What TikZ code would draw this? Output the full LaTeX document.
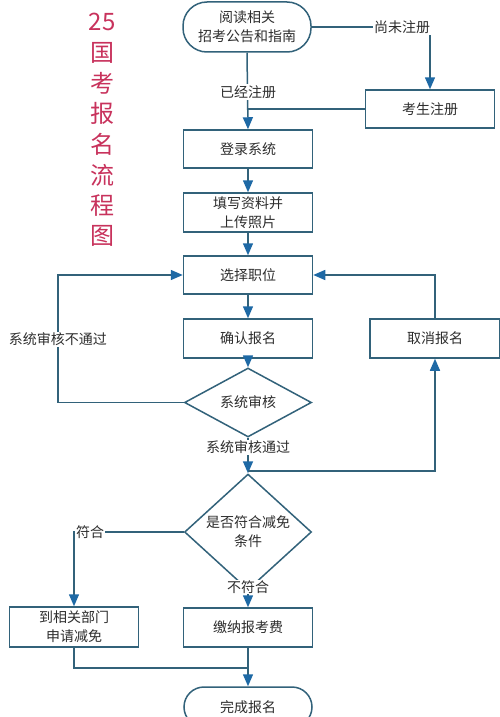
\documentclass[tikz,border=0pt]{standalone}
\usepackage{fontspec}
\newfontfamily\cjk{Noto Sans CJK SC}
\usetikzlibrary{arrows.meta,shapes.geometric}
\definecolor{linec}{RGB}{50,98,122}
\definecolor{arrowc}{RGB}{30,105,165}
\definecolor{textc}{RGB}{45,45,45}
\definecolor{titlec}{RGB}{200,50,92}
\tikzset{
  box/.style={draw=linec, line width=1.5pt, fill=white, minimum width=129pt, minimum height=38pt, inner sep=1pt, font=\cjk\fontsize{14}{19}\selectfont, text=textc, align=center},
  term/.style={box, rounded corners=24pt, minimum width=128pt, minimum height=50pt},
  dia/.style={draw=linec, line width=1.5pt, fill=white, shape=diamond, inner sep=0pt, font=\cjk\fontsize{14}{19}\selectfont, text=textc, align=center},
  lbl/.style={fill=white, inner sep=1pt, font=\cjk\fontsize{14}{17}\selectfont, text=textc},
  conn/.style={draw=linec, line width=1.5pt},
  arr/.style={conn, -{Triangle[width=10pt,length=12pt,color=arrowc,fill=arrowc]}},
  ttl/.style={font=\cjk\fontsize{24}{26}\selectfont, text=titlec, inner sep=0pt}
}
\begin{document}
\begin{tikzpicture}[x=1pt,y=-1pt]
\useasboundingbox (0,0) rectangle (500,717);
\clip (0,0) rectangle (500,717);
\fill[white] (0,0) rectangle (500,717);
% title
\foreach \c [count=\i] in {25,国,考,报,名,流,程,图}
  \node[ttl] (t\i) at (102,{22+30.6*(\i-1)}) {\c};
% nodes
\node[term] (start) at (247,27) {阅读相关\\招考公告和指南};
\node[box] (reg) at (430,109) {考生注册};
\node[box] (login) at (248,149) {登录系统};
\node[box, minimum height=39pt] (info) at (248,212.5) {填写资料并\\上传照片};
\node[box] (choose) at (248,275) {选择职位};
\node[box, minimum height=39pt] (confirm) at (248,338.5) {确认报名};
\node[box, minimum height=39pt, minimum width=130pt] (cancel) at (435,338.5) {取消报名};
\node[dia, minimum width=127pt, minimum height=37pt] (check) at (248,402.5) {系统审核};
\node[dia, minimum width=127pt, minimum height=70pt] (cond) at (248,532) {是否符合减免\\条件};
\node[box, minimum height=40pt] (apply) at (74,627) {到相关部门\\申请减免};
\node[box, minimum height=39pt] (pay) at (248,627.5) {缴纳报考费};
\node[term, minimum height=40pt, rounded corners=20pt] (done) at (248,707) {完成报名};
% coordinates
\coordinate (c1) at (430,27);
\coordinate (c2) at (248,109);
\coordinate (c3) at (58,402.5);
\coordinate (c4) at (58,275);
\coordinate (c5) at (435,275);
\coordinate (c6) at (248,471);
\coordinate (c7) at (435,471);
\coordinate (c8) at (74,532);
\coordinate (c9) at (74,668);
\coordinate (c10) at (248,668);
% connectors
\draw[arr] (start.east) -- (c1) -- (reg.north);
\draw[arr] (start.south) -- (login.north);
\draw[conn] (reg.west) -- (c2);
\draw[arr] (login.south) -- (info.north);
\draw[arr] (info.south) -- (choose.north);
\draw[arr] (choose.south) -- (confirm.north);
\draw[arr] (confirm.south) -- (check.north);
\draw[arr] (check.west) -- (c3) -- (c4) -- (choose.west);
\draw[arr] (cancel.north) -- (c5) -- (choose.east);
\draw[arr] (check.south) -- (cond.north);
\draw[arr] (c6) -- (c7) -- (cancel.south);
\draw[arr] (cond.west) -- (c8) -- (apply.north);
\draw[arr] (cond.south) -- (pay.north);
\draw[arr] (pay.south) -- (done.north);
\draw[conn] (apply.south) -- (c9) -- (c10);
% labels
\node[lbl] (l1) at (402,27) {尚未注册};
\node[lbl] (l2) at (248,92) {已经注册};
\node[lbl] (l3) at (58,339) {系统审核不通过};
\node[lbl] (l4) at (248,447) {系统审核通过};
\node[lbl] (l5) at (90,532) {符合};
\node[lbl] (l6) at (248,587) {不符合};
\end{tikzpicture}
\end{document}
